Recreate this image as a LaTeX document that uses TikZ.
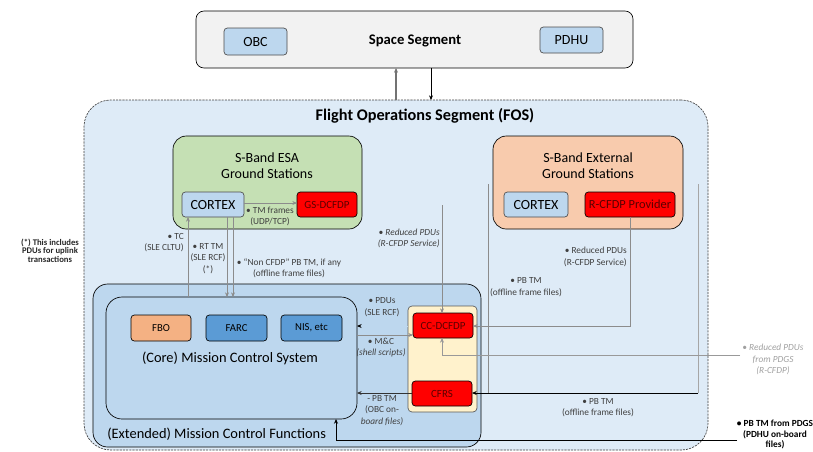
\documentclass[tikz,border=0pt]{standalone}
\usepackage{fontspec}
\setmainfont{Carlito}
\usetikzlibrary{arrows.meta}

\definecolor{fosfill}{HTML}{DEEBF7}
\definecolor{spacefill}{HTML}{F2F2F2}
\definecolor{unitfill}{HTML}{BDD7EE}
\definecolor{esafill}{HTML}{C5E0B4}
\definecolor{extfill}{HTML}{F8CBAD}
\definecolor{mcffill}{HTML}{BDD7EE}
\definecolor{fbofill}{HTML}{F4B183}
\definecolor{toolfill}{HTML}{5B9BD5}
\definecolor{creamfill}{HTML}{FFF2CC}
\definecolor{cfdpred}{HTML}{FF0000}
\definecolor{cfdptext}{HTML}{5A0000}
\definecolor{labeltext}{HTML}{3F3F3F}
\definecolor{pdgsgray}{HTML}{A0A0A0}
\definecolor{linegray}{HTML}{8C8C8C}

% box given by its two corners (in px units)
\newcommand\rbox[7]{%
  \node[#2, minimum width={(#5-#3)*0.75pt}, minimum height={(#6-#4)*0.75pt}]
    (#1) at ({(#3+#5)/2},{(#4+#6)/2}) {#7};}

\tikzset{
  panel/.style={draw=black, line width=0.5pt, inner sep=0pt, outer sep=0pt},
  unit/.style={panel, draw=black!70, fill=unitfill, rounded corners=2.5pt,
    font=\fontsize{10.5}{12}\selectfont},
  redbox/.style={panel, fill=cfdpred, rounded corners=2.5pt, text=cfdptext,
    font=\fontsize{8.2}{10}\selectfont},
  toolbox/.style={panel, fill=toolfill, rounded corners=2.5pt,
    font=\fontsize{8}{10}\selectfont},
  gstitle/.style={align=center, inner sep=0pt, font=\fontsize{10.5}{12}\selectfont},
  lbl/.style={align=center, inner sep=0pt, text=labeltext,
    font=\fontsize{7}{8.5}\selectfont},
  conn/.style={draw=linegray, line width=0.5pt},
  arr/.style={-{Stealth[length=3.5pt,width=3pt]}},
}

\begin{document}
\begin{tikzpicture}[x=0.75pt,y=-0.75pt]
\useasboundingbox (0,0) rectangle (813,451);

% ---------- space segment ----------
\rbox{space}{panel,fill=spacefill,rounded corners=6pt}{196}{11}{633}{68}{}
\node[font=\bfseries\fontsize{11}{13}\selectfont] (spacet) at (415,41) {Space Segment};
\rbox{obc}{unit}{224}{28}{287}{55}{OBC}
\rbox{pdhu}{unit}{540}{27}{603}{53}{PDHU}

% ---------- flight operations segment ----------
\rbox{fos}{panel,draw=black!75,dash pattern=on 1.6pt off 0.8pt,fill=fosfill,rounded corners=20pt}{84}{100}{708}{450}{}
\node[font=\bfseries\fontsize{12.2}{14}\selectfont] (fost) at (425,116) {Flight Operations Segment (FOS)};

\draw[draw=black!55, line width=0.9pt, arr] (396,0 |- fos.north) -- (396,0 |- space.south);
\draw[draw=black, line width=0.5pt, arr] (431,0 |- space.south) -- (431,0 |- fos.north);

% ---------- ground stations ----------
\rbox{esa}{panel,fill=esafill,rounded corners=10pt}{173}{136}{362}{229}{}
\node[gstitle] (esat) at (267,166) {S-Band ESA\\Ground Stations};
\rbox{cortexa}{unit}{182}{192}{244}{217}{CORTEX}
\rbox{gsdcfdp}{redbox}{297}{192}{357}{217}{GS-DCFDP}

\rbox{ext}{panel,fill=extfill,rounded corners=10pt}{493}{136}{683}{229}{}
\node[gstitle] (extt) at (588,166) {S-Band External\\Ground Stations};
\rbox{cortexb}{unit}{504}{192}{568}{217}{CORTEX}
\rbox{rcfdp}{redbox,font=\fontsize{9.3}{11}\selectfont}{585}{192}{675}{217}{R-CFDP Provider}

% ---------- mission control ----------
\rbox{mcf}{panel,fill=mcffill,rounded corners=11pt}{93}{284}{481}{447}{}
\node[anchor=west, inner sep=0pt, font=\fontsize{10.8}{13}\selectfont] (mcft) at (107,434)
  {(Extended)\ Mission Control Functions};
\rbox{mcs}{panel,fill=mcffill,rounded corners=12pt}{106}{297}{357}{419}{}
\node[inner sep=0pt, font=\fontsize{10.8}{13}\selectfont] (mcst) at (230,358)
  {(Core) Mission Control System};
\rbox{fbo}{toolbox,fill=fbofill}{131}{315}{191}{341}{FBO}
\rbox{farc}{toolbox}{206}{315}{267}{341}{FARC}
\rbox{nis}{toolbox}{281}{315}{342}{341}{NIS, etc}

\rbox{cfdp}{panel,draw=black!65,fill=creamfill,rounded corners=3pt}{408}{306}{477}{412}{}
\rbox{ccdcfdp}{redbox}{413}{313}{473}{338}{CC-DCFDP}
\rbox{cfrs}{redbox}{412}{381}{472}{406}{CFRS}

% ---------- connectors ----------
% ESA station internal link
\draw[conn, arr] (cortexa.east |- 0,203) -- (gsdcfdp.west |- 0,203);
\node[lbl] (tmfl) at (270,216.5) {• TM frames\\(UDP/TCP)};

% ESA station <-> core MCS
\draw[conn, arr] (188,0 |- mcs.north) -- (188,0 |- cortexa.south);
\draw[conn, arr] (227,0 |- cortexa.south) -- (227,0 |- mcs.north);
\draw[conn, arr] (233,0 |- cortexa.south) -- (233,0 |- mcs.north);
\node[lbl, align=right, anchor=east] (tcl) at (184,242.5) {• TC\\(SLE CLTU)};
\node[lbl] (rtl) at (208,258.5) {• RT TM\\(SLE RCF)\\(*)};
\node[lbl] (ncl) at (289,268.5) {• “Non CFDP” PB TM, if any\\(offline frame files)};

% reduced PDUs into the control-centre CFDP entity
\coordinate (rpdutop) at (442,205);
\draw[conn, arr] (rpdutop) -- (rpdutop |- ccdcfdp.north);
\node[lbl, align=right, anchor=east, font=\itshape\fontsize{7}{8.5}\selectfont] (rpdul) at (440,238.5)
  {• Reduced PDUs\\(R-CFDP Service)};

\draw[conn, arr] (630,0 |- rcfdp.south) |- (ccdcfdp.east |- 0,326);
\node[lbl, align=right, anchor=east] (rpdur) at (627,257) {• Reduced PDUs\\(R-CFDP Service)};

% offline frame files into CFRS
\coordinate (pbtopa) at (488,184);
\coordinate (pbtopb) at (698,184);
\draw[conn] (pbtopa) -- (pbtopa |- 0,393);
\draw[conn, draw=black!35] (pbtopb) -- (pbtopb |- 0,393);
\draw[draw=black, line width=0.6pt, arr] (pbtopb |- 0,393) -- (cfrs.east |- 0,393);
\node[lbl] (pbla) at (526,287) {• PB TM\\(offline frame files)};
\node[lbl] (pblb) at (598,407.5) {• PB TM\\(offline frame files)};

% CFDP entities <-> core MCS
\draw[draw=mcffill, line width=0.5pt, -{Stealth[length=3.5pt,width=3pt,color=black]}]
  (cfdp.west |- 0,326) -- (mcs.east |- 0,326);
\node[lbl] (pdul) at (382,307) {• PDUs\\(SLE RCF)};
\draw[conn, arr] (mcs.east |- 0,335) -- (ccdcfdp.west |- 0,335);
\node[lbl] (mcl) at (381,347.5) {• M\&C\\\textit{(shell scripts)}};
\draw[draw=black!80, line width=0.5pt, arr] (cfrs.west |- 0,393) -- (mcs.east |- 0,393);
\node[lbl] (obcl) at (382,410.5) {- PB TM\\(OBC on-\\\textit{board files)}};

% reduced PDUs from PDGS
\coordinate (pdgsr) at (740,355);
\draw[draw=black!40, line width=0.5pt, arr] (pdgsr) -| (442,0 |- ccdcfdp.south);
\node[lbl, text=pdgsgray, font=\itshape\fontsize{7}{8.6}\selectfont] (pdgsrl) at (773,359.5)
  {• Reduced PDUs\\from PDGS\\(R-CFDP)};

% PB TM from PDGS
\coordinate (pdgsb) at (737,440);
\draw[draw=black, line width=0.6pt, arr] (pdgsb) -| (336,0 |- mcs.south);
\node[lbl, text=black, font=\bfseries\fontsize{7}{8.2}\selectfont] (pdgsbl) at (775,434.5)
  {• PB TM from PDGS\\(PDHU on-board\\files)};

% footnote
\node[lbl, text=black!85, font=\bfseries\fontsize{6.5}{6.5}\selectfont] (note) at (50,250.5)
  {(*) This includes\\PDUs for uplink\\transactions};
\end{tikzpicture}
\end{document}
